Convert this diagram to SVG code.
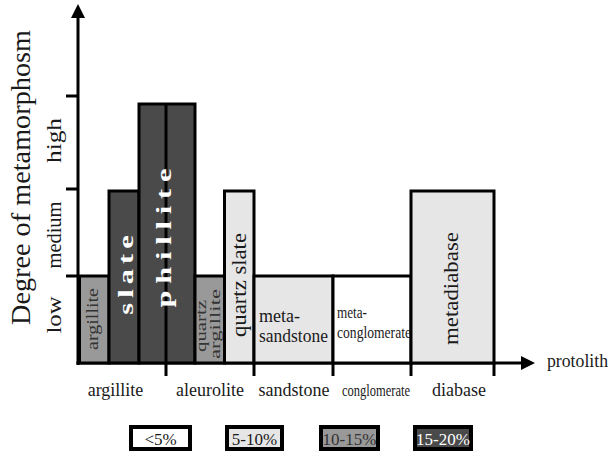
<svg xmlns="http://www.w3.org/2000/svg" width="608" height="455" viewBox="0 0 608 455">
<style>
.bar{stroke:#000;stroke-width:3}
.dark{fill:#4a4a4a}
.gray{fill:#999999}
.light{fill:#e6e6e6}
.white{fill:#ffffff}
.ln{stroke:#000;stroke-width:3;fill:none}
.t{font-family:"Liberation Serif","Times New Roman",serif;fill:#1a1a1a}
.w{font-family:"Liberation Serif","Times New Roman",serif;font-weight:bold;fill:#ffffff}
.lg{stroke:#000;stroke-width:4}
</style>
<rect width="608" height="455" fill="#ffffff"/>
<g id="connectors">
<line class="ln" x1="78" y1="365" x2="78" y2="16"/>
<polygon points="78,4 71,18 85,18" fill="#000"/>
<line class="ln" x1="76.5" y1="363" x2="523" y2="363"/>
<polygon points="535,363 521,356 521,370" fill="#000"/>
<line class="ln" x1="66" y1="96" x2="78" y2="96"/>
<line class="ln" x1="66" y1="189" x2="78" y2="189"/>
<line class="ln" x1="66" y1="276" x2="78" y2="276"/>
<line class="ln" x1="254" y1="363" x2="254" y2="376"/>
<line class="ln" x1="333" y1="363" x2="333" y2="376"/>
<line class="ln" x1="411" y1="363" x2="411" y2="376"/>
<line class="ln" x1="494" y1="363" x2="494" y2="376"/>
</g>
<g id="argillite-bar">
<rect class="bar gray" x="79.5" y="276" width="29.5" height="87"/>
<text class="t" font-size="16" transform="translate(98,319) rotate(-90)" text-anchor="middle" textLength="62" lengthAdjust="spacingAndGlyphs" style="fill:#333">argillite</text>
</g>
<g id="slate-bar">
<rect class="bar dark" x="109" y="191" width="30" height="172"/>
<text class="w" font-size="21" transform="translate(132.5,275) rotate(-90) scale(1.45,1)" text-anchor="middle" textLength="55" lengthAdjust="spacing">slate</text>
</g>
<g id="phillite-bar">
<rect class="bar dark" x="139" y="104" width="56" height="259"/>
<line class="ln" x1="166" y1="104" x2="166" y2="376"/>
<text class="w" font-size="21" transform="translate(171,238) rotate(-90) scale(1.45,1)" text-anchor="middle" textLength="96" lengthAdjust="spacing">phillite</text>
</g>
<g id="quartz-argillite-bar">
<rect class="bar gray" x="195" y="276" width="29.5" height="87"/>
<text class="t" font-size="15" transform="translate(206,326) rotate(-90)" text-anchor="middle" textLength="52" lengthAdjust="spacingAndGlyphs" style="fill:#333">quartz</text>
<text class="t" font-size="15" transform="translate(220,324) rotate(-90)" text-anchor="middle" textLength="70" lengthAdjust="spacingAndGlyphs" style="fill:#333">argillite</text>
</g>
<g id="quartz-slate-bar">
<rect class="bar light" x="224.5" y="191" width="29.5" height="172"/>
<text class="t" font-size="20" transform="translate(246,285) rotate(-90)" text-anchor="middle" textLength="104" lengthAdjust="spacingAndGlyphs">quartz slate</text>
</g>
<g id="meta-sandstone-bar">
<rect class="bar light" x="254" y="276" width="79" height="87"/>
<text class="t" font-size="18" x="259" y="322">meta-</text>
<text class="t" font-size="18" x="259" y="342" textLength="69" lengthAdjust="spacingAndGlyphs">sandstone</text>
</g>
<g id="meta-conglomerate-bar">
<rect class="bar white" x="333" y="276" width="78" height="87"/>
<text class="t" font-size="17" x="337" y="318" textLength="30" lengthAdjust="spacingAndGlyphs">meta-</text>
<text class="t" font-size="17" x="337" y="338" textLength="74" lengthAdjust="spacingAndGlyphs">conglomerate</text>
</g>
<g id="metadiabase-bar">
<rect class="bar light" x="411" y="191" width="83" height="172"/>
<text class="t" font-size="21" transform="translate(458,288.5) rotate(-90)" text-anchor="middle" textLength="113" lengthAdjust="spacingAndGlyphs">metadiabase</text>
</g>
<g id="axis-labels">
<text class="t" font-size="28" transform="translate(30,177.5) rotate(-90)" text-anchor="middle" textLength="295" lengthAdjust="spacingAndGlyphs">Degree of metamorphosm</text>
<text class="t" font-size="21" transform="translate(61,140.5) rotate(-90)" text-anchor="middle" textLength="45" lengthAdjust="spacingAndGlyphs">high</text>
<text class="t" font-size="21" transform="translate(61,235) rotate(-90)" text-anchor="middle" textLength="67" lengthAdjust="spacingAndGlyphs">medium</text>
<text class="t" font-size="21" transform="translate(61,315) rotate(-90)" text-anchor="middle" textLength="37" lengthAdjust="spacingAndGlyphs">low</text>
<text class="t" font-size="18" x="547" y="367" textLength="61" lengthAdjust="spacingAndGlyphs">protolith</text>
<text class="t" font-size="18" x="115.5" y="396" text-anchor="middle">argillite</text>
<text class="t" font-size="18" x="210" y="396" text-anchor="middle">aleurolite</text>
<text class="t" font-size="18" x="294" y="396" text-anchor="middle">sandstone</text>
<text class="t" font-size="17" x="376" y="396" text-anchor="middle" textLength="68" lengthAdjust="spacingAndGlyphs">conglomerate</text>
<text class="t" font-size="18" x="459" y="396" text-anchor="middle">diabase</text>
</g>
<g id="legend-lt5">
<rect class="lg white" x="131" y="427" width="59" height="22"/>
<text class="t" font-size="17" x="160.5" y="445" text-anchor="middle">&lt;5%</text>
</g>
<g id="legend-5-10">
<rect class="lg light" x="227" y="427" width="55" height="22"/>
<text class="t" font-size="17" x="254.5" y="445" text-anchor="middle">5-10%</text>
</g>
<g id="legend-10-15">
<rect class="lg gray" x="321" y="427" width="57" height="22"/>
<text class="t" font-size="17" x="349.5" y="445" text-anchor="middle" style="fill:#333">10-15%</text>
</g>
<g id="legend-15-20">
<rect class="lg dark" x="415" y="427" width="56" height="22"/>
<text class="t" font-size="17" x="443" y="445" text-anchor="middle" style="fill:#ffffff">15-20%</text>
</g>
</svg>
